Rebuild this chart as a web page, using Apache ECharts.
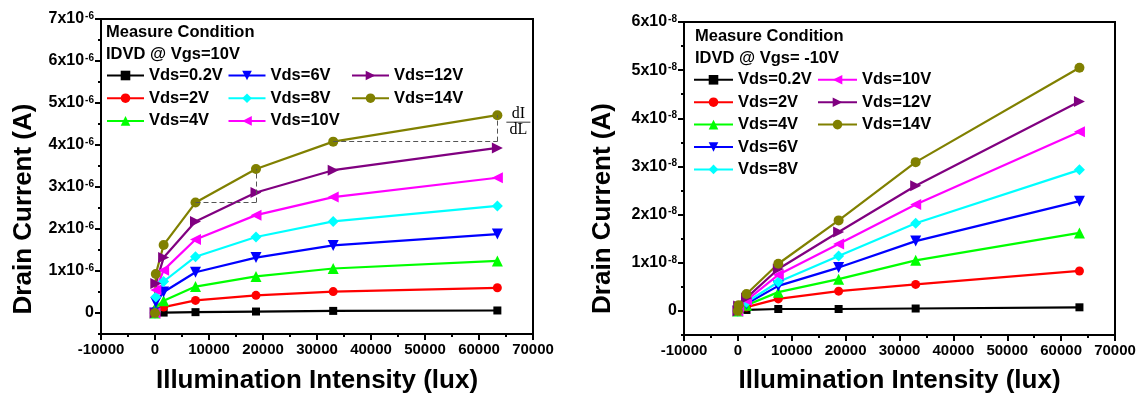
<!DOCTYPE html>
<html>
<head>
<meta charset="utf-8">
<script src="https://cdn.jsdelivr.net/npm/echarts@6/dist/echarts.min.js"></script>
<style>
  html, body { margin: 0; padding: 0; background: #fff; }
  #chart { width: 1144px; height: 399px; }
</style>
</head>
<body>
<div id="chart"></div>
<script>
// Illumination levels (lux) shared by both measurements
const xLux = [0, 150, 1600, 7500, 18700, 33000, 63400];

// Drain current (A), Vgs = 10V
const onVds02 = [0, 0.003e-6, 0.01e-6, 0.02e-6, 0.035e-6, 0.05e-6, 0.06e-6];
const onVds2  = [0, 0.07e-6, 0.14e-6, 0.30e-6, 0.42e-6, 0.51e-6, 0.60e-6];
const onVds4  = [0, 0.15e-6, 0.29e-6, 0.63e-6, 0.87e-6, 1.06e-6, 1.24e-6];
const onVds6  = [0, 0.25e-6, 0.50e-6, 0.97e-6, 1.32e-6, 1.61e-6, 1.88e-6];
const onVds8  = [0, 0.38e-6, 0.75e-6, 1.34e-6, 1.81e-6, 2.18e-6, 2.55e-6];
const onVds10 = [0, 0.55e-6, 1.02e-6, 1.75e-6, 2.33e-6, 2.76e-6, 3.22e-6];
const onVds12 = [0, 0.70e-6, 1.32e-6, 2.18e-6, 2.87e-6, 3.40e-6, 3.93e-6];
const onVds14 = [0, 0.93e-6, 1.62e-6, 2.63e-6, 3.43e-6, 4.08e-6, 4.71e-6];

// Drain current (A), Vgs = -10V
const offVds02 = [0, 0.005e-8, 0.02e-8, 0.04e-8, 0.04e-8, 0.05e-8, 0.075e-8];
const offVds2  = [0, 0.03e-8, 0.08e-8, 0.25e-8, 0.41e-8, 0.55e-8, 0.83e-8];
const offVds4  = [0, 0.05e-8, 0.12e-8, 0.39e-8, 0.66e-8, 1.05e-8, 1.62e-8];
const offVds6  = [0, 0.06e-8, 0.15e-8, 0.52e-8, 0.90e-8, 1.45e-8, 2.28e-8];
const offVds8  = [0, 0.07e-8, 0.18e-8, 0.60e-8, 1.14e-8, 1.82e-8, 2.93e-8];
const offVds10 = [0, 0.09e-8, 0.22e-8, 0.75e-8, 1.39e-8, 2.21e-8, 3.72e-8];
const offVds12 = [0, 0.10e-8, 0.27e-8, 0.87e-8, 1.64e-8, 2.60e-8, 4.35e-8];
const offVds14 = [0, 0.12e-8, 0.35e-8, 0.98e-8, 1.88e-8, 3.09e-8, 5.05e-8];

// Series names
const vdsNames = ['Vds=0.2V', 'Vds=2V', 'Vds=4V', 'Vds=6V', 'Vds=8V', 'Vds=10V', 'Vds=12V', 'Vds=14V'];

// Axis ticks
const onYMajor  = [0, 1e-6, 2e-6, 3e-6, 4e-6, 5e-6, 6e-6, 7e-6];
const onYMinor  = [-0.5e-6, 0.5e-6, 1.5e-6, 2.5e-6, 3.5e-6, 4.5e-6, 5.5e-6, 6.5e-6];
const offYMajor = [0, 1e-8, 2e-8, 3e-8, 4e-8, 5e-8, 6e-8];
const offYMinor = [-0.5e-8, 0.5e-8, 1.5e-8, 2.5e-8, 3.5e-8, 4.5e-8, 5.5e-8];

const onSets  = [onVds02, onVds2, onVds4, onVds6, onVds8, onVds10, onVds12, onVds14];
const offSets = [offVds02, offVds2, offVds4, offVds6, offVds8, offVds10, offVds12, offVds14];

const FONT = '"Liberation Sans", Arial, sans-serif';
const SERIF = '"Liberation Serif", "Times New Roman", serif';

// Marker look per drain voltage
const looks = {
  'Vds=0.2V': { color: '#000000', symbol: 'rect',     size: 8,  rotate: 0 },
  'Vds=2V':   { color: '#FF0000', symbol: 'circle',   size: 9,  rotate: 0 },
  'Vds=4V':   { color: '#00FF00', symbol: 'triangle', size: 11, rotate: 0 },
  'Vds=6V':   { color: '#0000FF', symbol: 'triangle', size: 11, rotate: 180 },
  'Vds=8V':   { color: '#00FFFF', symbol: 'diamond',  size: 11, rotate: 0 },
  'Vds=10V':  { color: '#FF00FF', symbol: 'triangle', size: 11, rotate: 90 },
  'Vds=12V':  { color: '#800080', symbol: 'triangle', size: 11, rotate: -90 },
  'Vds=14V':  { color: '#808000', symbol: 'circle',   size: 10, rotate: 0 }
};

function lineSeries(name, values, axisIdx, yIdx) {
  const lk = looks[name];
  return {
    type: 'line',
    name: name,
    xAxisIndex: axisIdx,
    yAxisIndex: yIdx,
    data: xLux.map((x, i) => [x, values[i]]),
    symbol: lk.symbol,
    symbolSize: lk.size,
    symbolRotate: lk.rotate,
    showAllSymbol: true,
    lineStyle: { color: lk.color, width: 2.2 },
    itemStyle: { color: lk.color },
    emphasis: { disabled: true }
  };
}

function sciLabel(power) {
  const scale = Math.pow(10, -power);
  return function (v) {
    const n = Math.round(v * scale);
    if (n === 0) return '{m|0}';
    return '{m|' + n + 'x10}{s|' + power + '}';
  };
}

const tickRich = {
  m: { fontSize: 16, fontWeight: 'bold', fontFamily: FONT, color: '#000' },
  s: { fontSize: 10, fontWeight: 'bold', fontFamily: FONT, color: '#000', verticalAlign: 'top', padding: [0, 0, 0, 1] }
};

function xAxisFor(grid, gap) {
  return {
    gridIndex: grid, type: 'value', min: -10000, max: 70000, interval: 10000,
    axisLine: { onZero: false, lineStyle: { color: '#000', width: 2 } },
    axisTick: { length: 6, lineStyle: { color: '#000', width: 2 } },
    minorTick: { show: true, splitNumber: 2, length: 3, lineStyle: { color: '#000', width: 2 } },
    splitLine: { show: false },
    axisLabel: {
      margin: 8, fontSize: 15, fontWeight: 'bold', fontFamily: FONT, color: '#000',
      showMinLabel: true, showMaxLabel: true, formatter: v => String(v)
    },
    name: 'Illumination Intensity (lux)', nameLocation: 'middle', nameGap: gap,
    nameTextStyle: { fontSize: 26, fontWeight: 'bold', fontFamily: FONT, color: '#000' }
  };
}

function yMainFor(grid, lo, hi, major, power, gap, shift) {
  return {
    gridIndex: grid, type: 'value', min: lo, max: hi, position: 'left',
    axisLine: { onZero: false, lineStyle: { color: '#000', width: 2 } },
    axisTick: { customValues: major, length: 6, lineStyle: { color: '#000', width: 2 } },
    splitLine: { show: false },
    axisLabel: { customValues: major, margin: 7, formatter: sciLabel(power), rich: tickRich },
    name: 'Drain Current (A)', nameLocation: 'middle', nameGap: gap,
    nameTextStyle: { fontSize: 26, fontWeight: 'bold', fontFamily: FONT, color: '#000', padding: [0, shift, 0, 0] }
  };
}

function yMinorFor(grid, lo, hi, minor) {
  return {
    gridIndex: grid, type: 'value', min: lo, max: hi, position: 'left',
    axisLine: { show: false, onZero: false },
    axisTick: { customValues: minor, length: 3, lineStyle: { color: '#000', width: 2 } },
    axisLabel: { show: false },
    splitLine: { show: false }
  };
}

function legendCol(names, left, top, gap, width) {
  return {
    data: names, orient: 'vertical', left: left, top: top, padding: 0,
    itemGap: gap, itemWidth: width, itemHeight: 12, selectedMode: false,
    textStyle: { fontSize: 16.5, fontWeight: 'bold', fontFamily: FONT, color: '#000', lineHeight: 16 }
  };
}

const series = [];
vdsNames.forEach((nm, i) => series.push(lineSeries(nm, onSets[i], 0, 0)));
vdsNames.forEach((nm, i) => series.push(lineSeries(nm, offSets[i], 1, 2)));

// Slope guides on the Vds=14V curve (Vgs=10V)
const top14 = series[7];
top14.markLine = {
  silent: true, symbol: 'none', animation: false,
  label: { show: false },
  lineStyle: { type: [5, 3], color: '#555', width: 1 },
  data: [
    [{ coord: [xLux[3], onVds14[3]] }, { coord: [xLux[4], onVds14[3]] }],
    [{ coord: [xLux[4], onVds14[3]] }, { coord: [xLux[4], onVds14[4]] }],
    [{ coord: [xLux[5], onVds14[5]] }, { coord: [xLux[6], onVds14[5]] }],
    [{ coord: [xLux[6], onVds14[5]] }, { coord: [xLux[6], onVds14[6]] }]
  ]
};
top14.markPoint = {
  silent: true, animation: false,
  symbol: 'rect', symbolSize: 1,
  itemStyle: { color: 'rgba(0,0,0,0)' },
  label: {
    show: true, position: 'inside', offset: [21, 7],
    formatter: '{n|dI}\n{bar| }\n{n|dL}',
    rich: {
      n: { fontSize: 16, fontFamily: SERIF, color: '#000', lineHeight: 13, align: 'center' },
      bar: { width: 24, height: 1, lineHeight: 3, backgroundColor: '#333', align: 'center' }
    }
  },
  data: [{ coord: [xLux[6], onVds14[6]] }]
};

const headFont = 'bold 16.5px ' + FONT;

const option = {
  animation: false,
  backgroundColor: '#fff',
  grid: [
    { left: 101, top: 19, width: 432, height: 319, show: true, borderColor: '#000', borderWidth: 2 },
    { left: 684, top: 22, width: 431, height: 319, show: true, borderColor: '#000', borderWidth: 2 }
  ],
  xAxis: [xAxisFor(0, 34), xAxisFor(1, 33)],
  yAxis: [
    yMainFor(0, -0.5e-6, 7e-6, onYMajor, -6, 64, 65),
    yMinorFor(0, -0.5e-6, 7e-6, onYMinor),
    yMainFor(1, -0.5e-8, 6e-8, offYMajor, -8, 68, 60),
    yMinorFor(1, -0.5e-8, 6e-8, offYMinor)
  ],
  legend: [
    legendCol(vdsNames.slice(0, 3), 106, 67, 5.7, 37),
    legendCol(vdsNames.slice(3, 6), 227.5, 67, 5.7, 37),
    legendCol(vdsNames.slice(6, 8), 351, 67, 5.7, 37),
    legendCol(vdsNames.slice(0, 5), 693, 71.3, 5.4, 39),
    legendCol(vdsNames.slice(5, 8), 817, 71.3, 5.4, 39)
  ],
  graphic: [
    { type: 'text', x: 106, y: 32.7, style: { text: 'Measure Condition', font: headFont, fill: '#000', verticalAlign: 'middle' } },
    { type: 'text', x: 106, y: 54, style: { text: 'IDVD @ Vgs=10V', font: headFont, fill: '#000', verticalAlign: 'middle' } },
    { type: 'text', x: 695, y: 36, style: { text: 'Measure Condition', font: headFont, fill: '#000', verticalAlign: 'middle' } },
    { type: 'text', x: 695, y: 58.3, style: { text: 'IDVD @ Vgs= -10V', font: headFont, fill: '#000', verticalAlign: 'middle' } }
  ],
  series: series
};

const chart = echarts.init(document.getElementById('chart'), null, { renderer: 'canvas' });
chart.setOption(option);
</script>
</body>
</html>
